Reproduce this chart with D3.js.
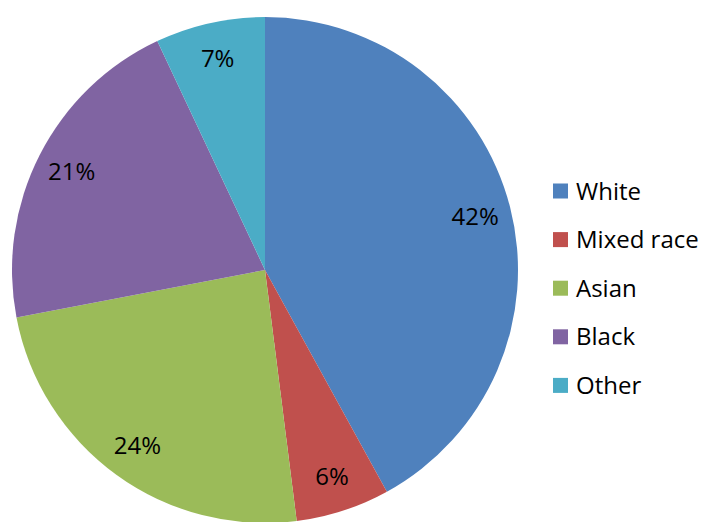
<!DOCTYPE html>
<html>
<head>
<meta charset="utf-8">
<script src="https://cdn.jsdelivr.net/npm/d3@7"></script>
<style>
  html, body { margin: 0; padding: 0; background: #ffffff; }
  svg { display: block; }
  text { font-family: "Open Sans", "Liberation Sans", sans-serif; }
</style>
</head>
<body>
<svg id="chart" width="704" height="522"></svg>
<script>
// Share of population by ethnic group (percent)
const categories = ["White", "Mixed race", "Asian", "Black", "Other"];
const values = [42, 6, 24, 21, 7];
const colors = ["#4F81BD", "#C0504D", "#9BBB59", "#8064A2", "#4BACC6"];

const width = 704, height = 522;
const cx = 265, cy = 270, radius = 253;
const labelRadius = 217;

const svg = d3.select("#chart");

const pie = d3.pie().sort(null).value(d => d.value);
const data = categories.map((c, i) => ({ name: c, value: values[i] }));
const arcs = pie(data);

const arc = d3.arc().innerRadius(0).outerRadius(radius);
const labelArc = d3.arc().innerRadius(labelRadius).outerRadius(labelRadius);

const color = d3.scaleOrdinal().domain(categories).range(colors);

const g = svg.append("g").attr("transform", `translate(${cx},${cy})`);

g.selectAll("path")
  .data(arcs)
  .join("path")
  .attr("d", arc)
  .attr("fill", d => color(d.data.name))
  .attr("stroke", "none");

const total = d3.sum(values);
g.selectAll("text.label")
  .data(arcs)
  .join("text")
  .attr("class", "label")
  .attr("transform", d => `translate(${labelArc.centroid(d)})`)
  .attr("text-anchor", "middle")
  .attr("dy", "0.36em")
  .attr("font-size", 24)
  .attr("fill", "#000")
  .text(d => Math.round(d.data.value / total * 100) + "%");

// Legend
const legend = svg.append("g").attr("transform", "translate(553,191)");
const rowStep = 48.6;
const rows = legend.selectAll("g")
  .data(categories)
  .join("g")
  .attr("transform", (d, i) => `translate(0,${i * rowStep})`);

rows.append("rect")
  .attr("x", 0).attr("y", -7.5)
  .attr("width", 15).attr("height", 15)
  .attr("fill", d => color(d));

rows.append("text")
  .attr("x", 23)
  .attr("dy", "0.36em")
  .attr("font-size", 24)
  .attr("fill", "#000")
  .text(d => d);
</script>
</body>
</html>
